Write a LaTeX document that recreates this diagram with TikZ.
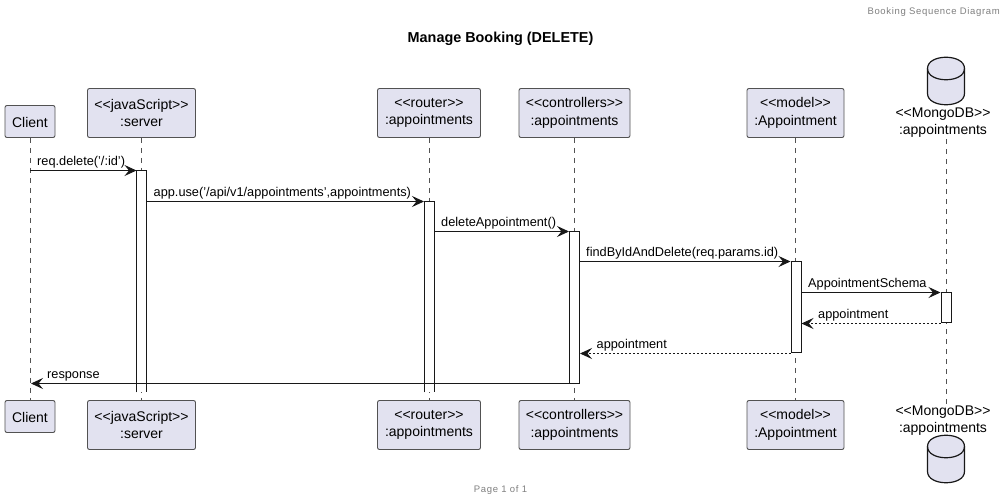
\documentclass[tikz,border=0pt]{standalone}
\usepackage{fontspec}
\setmainfont{Liberation Sans}
\usetikzlibrary{arrows.meta,shapes.geometric}
\definecolor{pfill}{HTML}{E2E2F0}
\definecolor{pline}{HTML}{181818}
\definecolor{pgray}{HTML}{808080}
\tikzset{
  x=1pt,y=-1pt,
  part/.style={draw=pline!75,line width=0.9pt,fill=pfill,rounded corners=2pt,inner sep=0pt,align=center,font=\fontsize{14}{17.5}\selectfont,text=black},
  onebox/.style={part,minimum height=32pt,execute at begin node=\rule{0pt}{12.5pt}},
  twobox/.style={part,minimum height=49pt,execute at begin node=\rule{0pt}{16pt}},
  life/.style={draw=pline!75,line width=0.7pt,dash pattern=on 5pt off 5pt},
  bar/.style={draw=pline,line width=1pt,fill=white,inner sep=0pt,minimum width=10pt},
  msg/.style={draw=pline,line width=1pt,-{Stealth[length=12pt,width=11pt,inset=4.5pt]}},
  ret/.style={msg,dash pattern=on 2pt off 2pt},
  mlabel/.style={font=\fontsize{12.75}{15}\selectfont,inner sep=0pt,anchor=base west,text=black},
  dbtext/.style={inner sep=0pt,align=center,font=\fontsize{14}{17}\selectfont,text=black},
  note/.style={font=\fontsize{9.5}{11}\selectfont,text=pgray,inner sep=0pt},
}
\newcommand{\dbshape}[2]{%
  \draw[draw=pline,line width=1.2pt,fill=pfill] (#1-18.5,#2+11) .. controls (#1-18.5,#2-4) and (#1+18.5,#2-4) .. (#1+18.5,#2+11) -- (#1+18.5,#2+36) .. controls (#1+18.5,#2+51) and (#1-18.5,#2+51) .. (#1-18.5,#2+36) -- cycle;
  \draw[draw=pline,line width=1.2pt] (#1-18.5,#2+11) .. controls (#1-18.5,#2+26) and (#1+18.5,#2+26) .. (#1+18.5,#2+11);
}
\begin{document}
\begin{tikzpicture}
\useasboundingbox (0,-0.5) rectangle (1007,501.5);
\fill[white] (0,-0.5) rectangle (1007,501.5);
% titles
\node[note,anchor=east] (hdr) at (1000,12) {\addfontfeature{LetterSpace=7}Booking Sequence Diagram};
\node[font=\bfseries\fontsize{14.4}{17}\selectfont,inner sep=0pt] (title) at (500.5,38) {Manage Booking (DELETE)};
\node[note] (ftr) at (500.5,490) {\addfontfeature{LetterSpace=7}Page 1 of 1};
% lifeline end coordinates
\coordinate (dbtop) at (946,139);
\coordinate (dbbot) at (946,408);
% participants
\node[onebox,minimum width=50pt] (clientT) at (30,121) {Client};
\node[twobox,minimum width=108pt] (serverT) at (141.5,112.5) {<{}<javaScript>{}>\\:server};
\node[twobox,minimum width=103pt] (routerT) at (429,112.5) {<{}<router>{}>\\:appointments};
\node[twobox,minimum width=111pt] (ctrlT) at (574.5,112.5) {<{}<controllers>{}>\\:appointments};
\node[twobox,minimum width=97pt] (modelT) at (795.5,112.5) {<{}<model>{}>\\:Appointment};
\node[onebox,minimum width=50pt] (clientB) at (30,416) {Client};
\node[twobox,minimum width=108pt] (serverB) at (141.5,424.5) {<{}<javaScript>{}>\\:server};
\node[twobox,minimum width=103pt] (routerB) at (429,424.5) {<{}<router>{}>\\:appointments};
\node[twobox,minimum width=111pt] (ctrlB) at (574.5,424.5) {<{}<controllers>{}>\\:appointments};
\node[twobox,minimum width=97pt] (modelB) at (795.5,424.5) {<{}<model>{}>\\:Appointment};
\dbshape{946}{57}
\dbshape{946}{435}
\node[dbtext] (dbT) at (943,122.5) {<{}<MongoDB>{}>\\:appointments};
\node[dbtext] (dbB) at (943,420) {<{}<MongoDB>{}>\\:appointments};
% lifelines
\draw[life] (clientT) -- (clientB);
\draw[life] (serverT) -- (serverB);
\draw[life] (routerT) -- (routerB);
\draw[life] (ctrlT) -- (ctrlB);
\draw[life] (modelT) -- (modelB);
\draw[life] (dbtop) -- (dbbot);
% activations
\fill[white] (136.5,170) rectangle (146.5,392);
\draw[bar] (136.5,392) coordinate (aS1) -- (136.5,170) coordinate (aS) -- (146.5,170) coordinate (aSr) -- (146.5,392) coordinate (aS2);
\fill[white] (424,201) rectangle (434,392);
\draw[bar] (424,392) coordinate (aR1) -- (424,201) coordinate (aR) -- (434,201) coordinate (aRr) -- (434,392) coordinate (aR2);
\node[bar,minimum height=152pt,anchor=north] (aC) at (574.5,231) {};
\node[bar,minimum height=91pt,anchor=north] (aM) at (796,261) {};
\node[bar,minimum height=30pt,anchor=north] (aD) at (946,292) {};
% message anchors
\coordinate (cl1) at (30,170);
\coordinate (cl8) at (31,383);
% messages
\draw[msg] (cl1) -- (aS);
\draw[msg] (aSr |- 0,201) -- (aR);
\draw[msg] (aRr |- 0,231) -- (aC.north west);
\draw[msg] (aC.east |- 0,261) -- (aM.north west);
\draw[msg] (aM.east |- 0,292) -- (aD.north west);
\draw[ret] (aD.south west) -- (aM.east |- aD.south);
\draw[ret] (aM.south west) -- (aC.east |- aM.south);
\draw[msg] (aC.west |- cl8) -- (cl8);
% labels
\node[mlabel] (l1) at (37,165.5) {req.delete('/:id')};
\node[mlabel] (l2) at (153.5,196.5) {app.use('/api/v1/appointments',appointments)};
\node[mlabel] (l3) at (441,226.5) {deleteAppointment()};
\node[mlabel] (l4) at (586,256.5) {findByIdAndDelete(req.params.id)};
\node[mlabel] (l5) at (808,287.5) {AppointmentSchema};
\node[mlabel] (l6) at (818,318) {appointment};
\node[mlabel] (l7) at (596.5,348) {appointment};
\node[mlabel] (l8) at (47,378) {response};
\end{tikzpicture}
\end{document}
